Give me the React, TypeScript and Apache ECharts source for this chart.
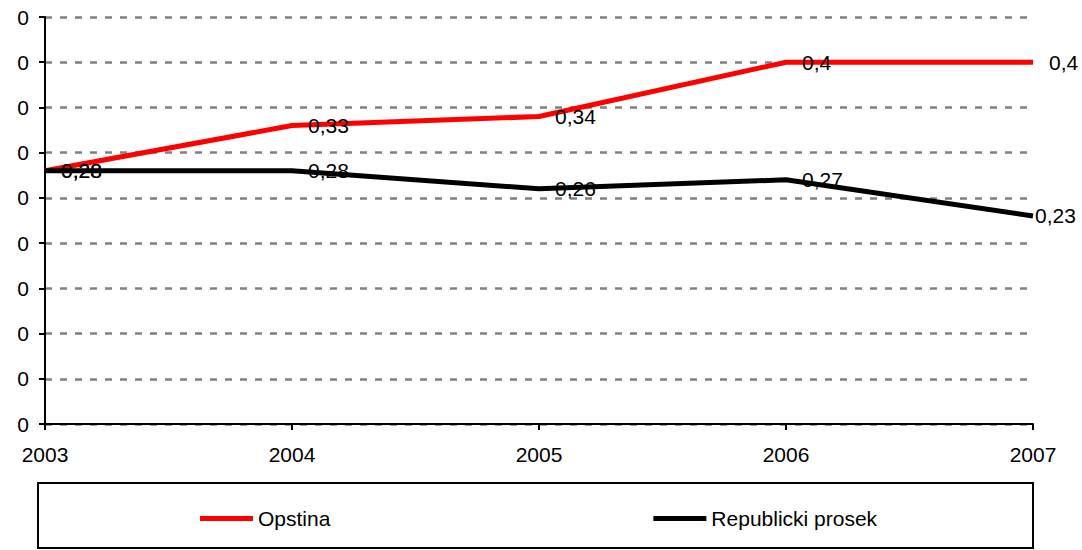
import React, { useEffect, useRef } from "react";
import * as echarts from "echarts";

const years = ["2003", "2004", "2005", "2006", "2007"];
const opstina = [0.28, 0.33, 0.34, 0.4, 0.4];
const republicki = [0.28, 0.28, 0.26, 0.27, 0.23];
const seriesNames = ["Opstina", "Republicki prosek"];

const FONT = "'Liberation Sans', Arial, sans-serif";
const FS = 21;

export default function App() {
  const ref = useRef<HTMLDivElement>(null);
  useEffect(() => {
    if (!ref.current) return;
    const chart = echarts.init(ref.current, null, { renderer: "svg" });
    const fmt = (p: any) => String(p.value).replace(".", ",");
    const labelStyle = {
      show: true,
      position: "right",
      distance: 16,
      color: "#000",
      fontSize: FS,
      fontFamily: FONT,
      formatter: fmt,
    };
    const last = republicki.length - 1;
    const republickiData = republicki.map((v, i) =>
      i === last ? { value: v, label: { distance: 2 } } : v
    );
    chart.setOption({
      animation: false,
      backgroundColor: "#ffffff",
      textStyle: { fontFamily: FONT },
      grid: { left: 45, right: 49, top: 17, bottom: 126, containLabel: false },
      xAxis: {
        type: "category",
        data: years,
        boundaryGap: false,
        axisLine: { lineStyle: { color: "#000", width: 2 } },
        axisTick: { show: true, length: 6, lineStyle: { color: "#000", width: 2 } },
        axisLabel: { color: "#000", fontSize: FS, fontFamily: FONT, margin: 20 },
      },
      yAxis: {
        type: "value",
        min: 0,
        max: 0.45,
        interval: 0.05,
        axisLine: { show: true, lineStyle: { color: "#000", width: 2 } },
        axisTick: { show: true, length: 6, lineStyle: { color: "#000", width: 2 } },
        axisLabel: {
          color: "#000",
          fontSize: FS,
          fontFamily: FONT,
          margin: 16,
          formatter: (v: number) => String(Math.round(v)),
        },
        splitLine: { show: true, lineStyle: { color: "#808080", width: 2.5, type: [7, 8] } },
      },
      legend: {
        left: 195,
        top: 503,
        itemWidth: 53,
        itemHeight: 5,
        itemGap: 323,
        icon: "rect",
        textStyle: { color: "#000", fontSize: FS, fontFamily: FONT },
        data: seriesNames,
      },
      graphic: [
        {
          type: "rect",
          shape: { x: 38, y: 483, width: 995, height: 65 },
          style: { fill: "none", stroke: "#000", lineWidth: 2 },
          z: -1,
        },
      ],
      series: [
        {
          name: seriesNames[0],
          type: "line",
          data: opstina,
          symbol: "circle",
          symbolSize: 0,
          showSymbol: true,
          lineStyle: { color: "#ff0000", width: 5 },
          itemStyle: { color: "#ff0000" },
          label: labelStyle,
        },
        {
          name: seriesNames[1],
          type: "line",
          data: republickiData,
          symbol: "circle",
          symbolSize: 0,
          showSymbol: true,
          lineStyle: { color: "#000000", width: 5 },
          itemStyle: { color: "#000000" },
          label: labelStyle,
        },
      ],
    });
    return () => chart.dispose();
  }, []);
  return (
    <div
      ref={ref}
      style={{ position: "fixed", left: 0, top: 0, width: 1082, height: 550, background: "#fff" }}
    />
  );
}
